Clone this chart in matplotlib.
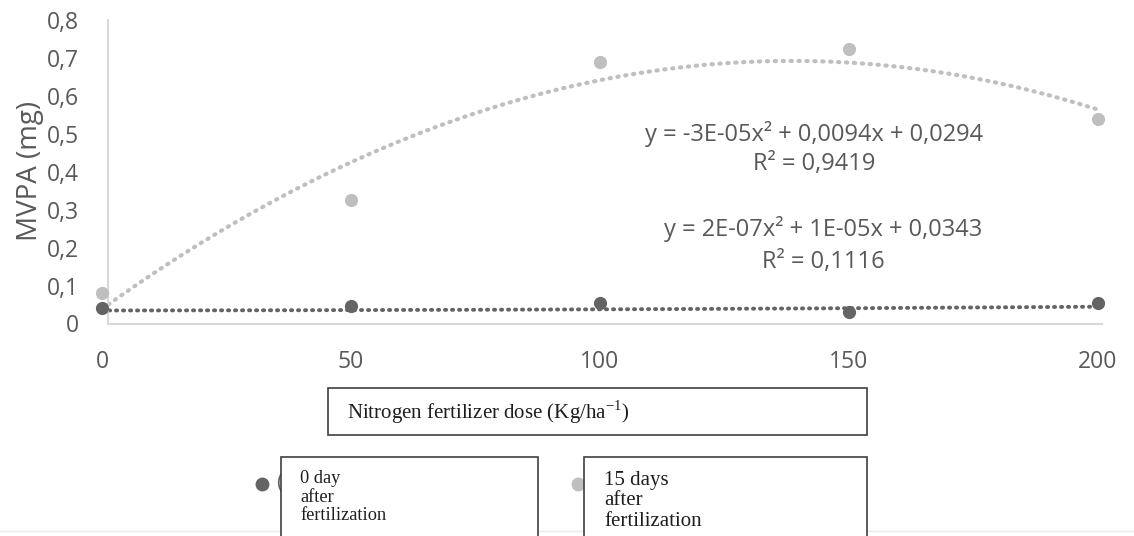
import numpy as np
import matplotlib
matplotlib.use("Agg")
import matplotlib.pyplot as plt
from matplotlib.lines import Line2D
from matplotlib.patches import Rectangle

# ------------------------------------------------------------------
# data
# ------------------------------------------------------------------
doses = [0, 50, 100, 150, 200]
mvpa_day0 = [0.042, 0.047, 0.053, 0.029, 0.053]
mvpa_day15 = [0.080, 0.325, 0.690, 0.723, 0.538]

# trend for day 0 as printed on the chart (rounded coefficients)
trend_day0 = [2e-07, 1e-05, 0.0343]

eq_day15 = ["y = -3E-05x\u00b2 + 0,0094x + 0,0294", "R\u00b2 = 0,9419"]
eq_day0 = ["y = 2E-07x\u00b2 + 1E-05x + 0,0343", "R\u00b2 = 0,1116"]

yticks = [0, 0.1, 0.2, 0.3, 0.4, 0.5, 0.6, 0.7, 0.8]
ytick_labels = ["0", "0,1", "0,2", "0,3", "0,4", "0,5", "0,6", "0,7", "0,8"]
xticks = [0, 50, 100, 150, 200]

label_day0 = "0 day\nafter\nfertilization"
label_day15 = "15 days\nafter\nfertilization"
x_title = r"Nitrogen fertilizer dose (Kg/ha$^{\mathrm{-1}}$)"
y_title = "MVPA (mg)"

# ------------------------------------------------------------------
# styling
# ------------------------------------------------------------------
plt.rcParams['font.family'] = ['Open Sans', 'DejaVu Sans']
plt.rcParams['mathtext.fontset'] = 'custom'
plt.rcParams['mathtext.rm'] = 'Liberation Serif'

DARK = '#646464'
LIGHT = '#BFBFBF'
TXT = '#595959'
BOXTXT = '#1e1e1e'
SERIF = ['Liberation Serif', 'DejaVu Serif']

W, H = 1134, 536


def fx(px):
    return px / W


def fy(py):
    return 1 - py / H


fig = plt.figure(figsize=(W / 100, H / 100), dpi=100)
ax = fig.add_axes([fx(96), fy(323.5), (1102 - 96) / W, (323.5 - 20) / H])

xs = np.linspace(0, 200, 300)
fit15 = np.polyfit(doses, mvpa_day15, 2)
ax.plot(xs, np.polyval(fit15, xs), color=LIGHT, lw=3.0,
        linestyle=(0, (0.3, 1.6)), dash_capstyle='round', zorder=2)
ax.plot(xs, np.polyval(trend_day0, xs), color=DARK, lw=2.8,
        linestyle=(0, (0.3, 1.5)), dash_capstyle='round', zorder=2)

ax.plot(doses, mvpa_day15, 'o', color=LIGHT, ms=9.5, mew=0, zorder=3,
        clip_on=False)
ax.plot(doses, mvpa_day0, 'o', color=DARK, ms=9.5, mew=0, zorder=4,
        clip_on=False)

ax.set_xlim(-1.2, 200.8)
ax.set_ylim(0, 0.8)
ax.set_xticks(xticks)
ax.set_xticklabels([str(v) for v in xticks])
ax.set_yticks(yticks)
ax.set_yticklabels(ytick_labels)
ax.tick_params(length=0, labelsize=16.5, labelcolor=TXT)
ax.tick_params(axis='x', pad=19)
ax.tick_params(axis='y', pad=21)

for s in ('top', 'right'):
    ax.spines[s].set_visible(False)
for s in ('left', 'bottom'):
    ax.spines[s].set_color('#D9D9D9')
    ax.spines[s].set_linewidth(1.5)
ax.spines['left'].set_position(('data', 1.2))
ax.spines['bottom'].set_bounds(1.2, 200.8)

# trendline equations
EQ = 17
fig.text(fx(814), fy(134), eq_day15[0], ha='center', va='center',
         fontsize=EQ, color=TXT)
fig.text(fx(814), fy(164), eq_day15[1], ha='center', va='center',
         fontsize=EQ, color=TXT)
fig.text(fx(823), fy(229), eq_day0[0], ha='center', va='center',
         fontsize=EQ, color=TXT)
fig.text(fx(823), fy(262), eq_day0[1], ha='center', va='center',
         fontsize=EQ, color=TXT)

fig.text(fx(30), fy(171), y_title, rotation=90, ha='center', va='center',
         fontsize=20, color=TXT)

# faint line near the bottom
fig.add_artist(Line2D([0, 1], [fy(531), fy(531)], color='#EAEAEA', lw=1))

# x-axis title box
fig.add_artist(Rectangle((fx(328), fy(435)), fx(867) - fx(328),
                         fy(388) - fy(435), transform=fig.transFigure,
                         facecolor='white', edgecolor='#404040', lw=1.2,
                         zorder=5))
fig.text(fx(347), fy(412), x_title, ha='left', va='center', fontsize=15,
         family=SERIF, color=BOXTXT, zorder=6)

# legend markers, partly covered by the label boxes
fig.add_artist(Line2D([fx(262)], [fy(484)], marker='o', color=DARK,
                      ms=10, mew=0, zorder=3))
fig.add_artist(Line2D([fx(578)], [fy(484)], marker='o', color=LIGHT,
                      ms=10, mew=0, zorder=3))
fig.text(fx(276), fy(484), "(", ha='left', va='center', fontsize=15,
         color=DARK, zorder=3)
fig.text(fx(860), fy(484), ")", ha='left', va='center', fontsize=15,
         color=DARK, zorder=3)

fig.add_artist(Rectangle((fx(281), fy(540)), fx(538) - fx(281),
                         fy(457) - fy(540), transform=fig.transFigure,
                         facecolor='white', edgecolor='#404040', lw=1.2,
                         zorder=5))
fig.text(fx(300), fy(470), label_day0, ha='left', va='top', fontsize=13.2,
         family=SERIF, color=BOXTXT, linespacing=1.12, zorder=6)

fig.add_artist(Rectangle((fx(584), fy(540)), fx(867) - fx(584),
                         fy(457) - fy(540), transform=fig.transFigure,
                         facecolor='white', edgecolor='#404040', lw=1.2,
                         zorder=5))
fig.text(fx(604), fy(471), label_day15, ha='left', va='top', fontsize=15,
         family=SERIF, color=BOXTXT, linespacing=1.1, zorder=6)

fig.savefig('out.png', dpi=100)
